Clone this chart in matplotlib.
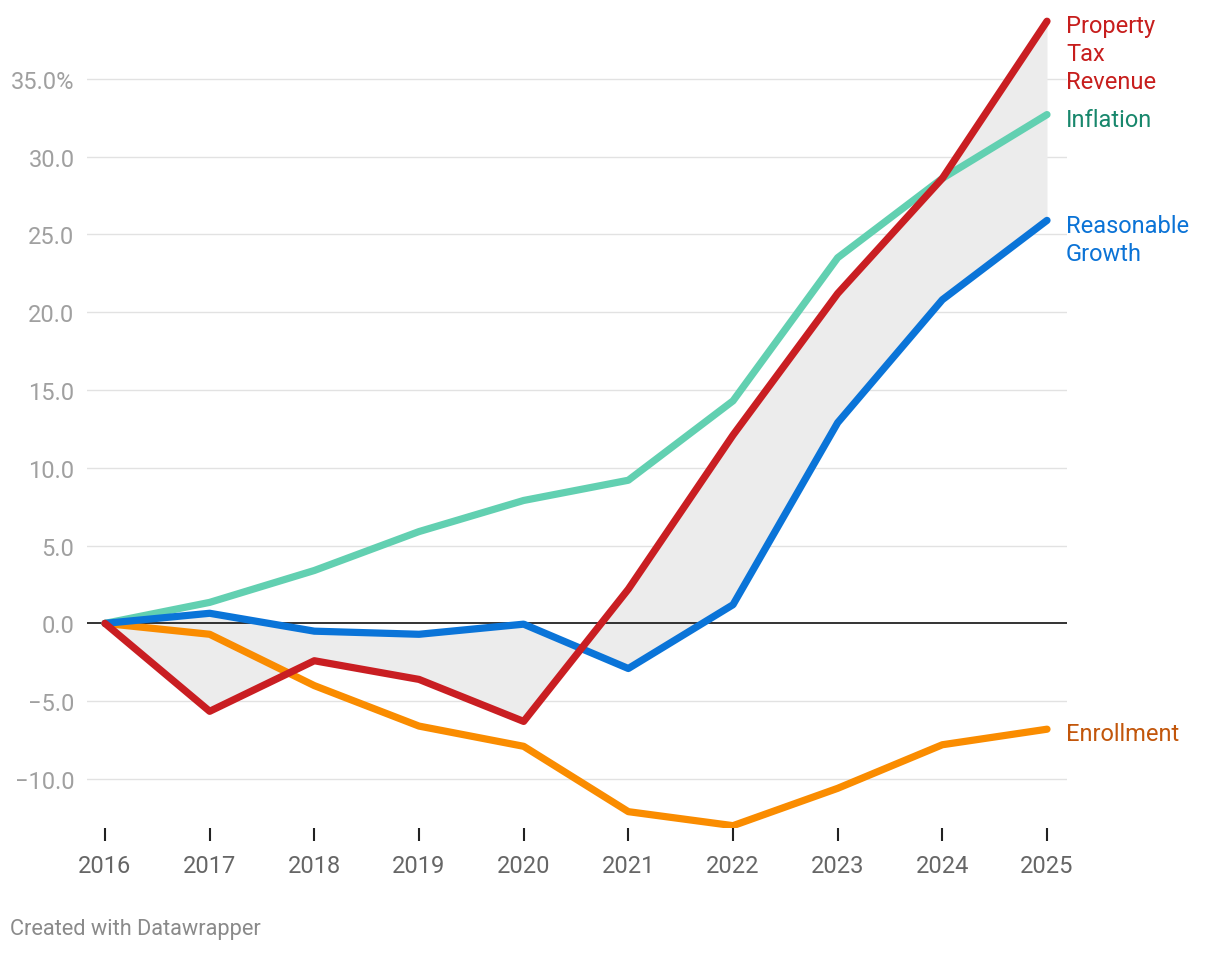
import numpy as np
import matplotlib.pyplot as plt
from matplotlib.ticker import FuncFormatter

plt.rcParams['font.family'] = ['Roboto', 'DejaVu Sans']

years = [2016, 2017, 2018, 2019, 2020, 2021, 2022, 2023, 2024, 2025]
property_tax = [0, -5.65, -2.4, -3.6, -6.3, 2.2, 12.1, 21.2, 28.6, 38.7]
inflation = [0, 1.35, 3.4, 5.9, 7.9, 9.2, 14.3, 23.5, 28.6, 32.7]
reasonable = [0, 0.65, -0.5, -0.7, -0.05, -2.9, 1.2, 12.9, 20.8, 25.9]
enrollment = [0, -0.7, -4.0, -6.6, -7.9, -12.1, -13.0, -10.6, -7.8, -6.8]

yticks = [-10, -5, 0, 5, 10, 15, 20, 25, 30, 35]

fig = plt.figure(figsize=(12.2, 9.54), dpi=100)
ax = fig.add_axes([87/1220, 1-829/954, 980/1220, 813/954])

ax.set_xlim(2016 - 18/104.7, 2025 + 20/104.7)
ax.set_ylim(-13.15, 39.1)

ax.fill_between(years, property_tax, reasonable, color='#ececec', lw=0, zorder=1)
for y in yticks:
    if y != 0:
        ax.axhline(y, color='#e2e2e2', lw=1, zorder=0)
ax.axhline(0, color='#111111', lw=1.2, zorder=2)

series = [
    (inflation, '#62d0b1'),
    (enrollment, '#fa8c00'),
    (reasonable, '#0a74d8'),
    (property_tax, '#c91e22'),
]
for vals, col in series:
    ax.plot(years, vals, color=col, lw=5.2, solid_capstyle='round',
            solid_joinstyle='round', zorder=3)

def fmt(v, pos):
    s = '%.1f' % abs(v)
    if v < 0:
        s = '\u2212' + s
    if v == 35:
        s += '%'
    return s

ax.set_yticks(yticks)
ax.yaxis.set_major_formatter(FuncFormatter(fmt))
ax.set_xticks(years)
ax.set_xticklabels([str(y) for y in years])
ax.tick_params(axis='y', length=0, pad=9, labelsize=17, labelcolor='#a0a0a0')
ax.tick_params(axis='x', length=9, width=1.5, color='#222222', pad=10,
               labelsize=17, labelcolor='#666666', direction='out')
for sp in ax.spines.values():
    sp.set_visible(False)

labels = [
    ('Property\nTax\nRevenue', property_tax[-1], '#c71e1d', -32),
    ('Inflation', inflation[-1], '#18876c', -5),
    ('Reasonable\nGrowth', reasonable[-1], '#0b73d6', -19),
    ('Enrollment', enrollment[-1], '#c2560b', -4),
]
for txt, yv, col, dy in labels:
    ax.annotate(txt, (2025, yv), xytext=(19, dy), textcoords='offset pixels',
                color=col, fontsize=17, va='center', ha='left', linespacing=1.28,
                annotation_clip=False)

fig.text(10/1220, 1-930/954, 'Created with Datawrapper', color='#8a8a8a',
         fontsize=15.7, va='center', ha='left')

fig.savefig('out.png', dpi=100)
